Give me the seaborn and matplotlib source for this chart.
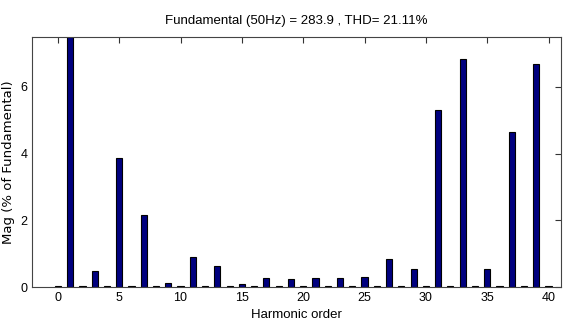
import numpy as np
import pandas as pd
import matplotlib
matplotlib.use("Agg")
import matplotlib.pyplot as plt
import seaborn as sns

# harmonic spectrum (% of fundamental)
orders = list(range(0, 41))
mags = [0.02, 100.0, 0.03, 0.47, 0.03, 3.88, 0.03, 2.15, 0.03, 0.12,
        0.03, 0.90, 0.03, 0.63, 0.03, 0.08, 0.03, 0.28, 0.03, 0.24,
        0.03, 0.28, 0.02, 0.28, 0.02, 0.31, 0.02, 0.85, 0.03, 0.55,
        0.03, 5.30, 0.03, 6.84, 0.03, 0.55, 0.03, 4.64, 0.03, 6.69,
        0.04]
title = "Fundamental (50Hz) = 283.9 , THD= 21.11%"

df = pd.DataFrame({"order": orders, "mag": mags})

sns.set_style("white")
plt.rcParams["font.family"] = ["Liberation Sans Narrow", "Liberation Sans", "DejaVu Sans"]
plt.rcParams["text.color"] = "black"
plt.rcParams["axes.labelcolor"] = "black"
plt.rcParams["xtick.color"] = "black"
plt.rcParams["ytick.color"] = "black"

fig = plt.figure(figsize=(5.74, 3.33), dpi=100)
ax = fig.add_axes([0.056, 0.138, 0.921, 0.751])

sns.barplot(data=df, x="order", y="mag", native_scale=True, width=0.5,
            color="#00007f", saturation=1, edgecolor="black", linewidth=0.8, ax=ax)

ax.set_xlim(-2.1, 41)
ax.set_ylim(0, 7.5)
ax.set_xticks(range(0, 41, 5))
ax.set_yticks([0, 2, 4, 6])
ax.tick_params(direction="in", top=True, right=True, length=4, labelsize=9,
               color="#333333", width=0.8)
for s in ax.spines.values():
    s.set_color("#444444")
    s.set_linewidth(0.8)

ax.set_xlabel("Harmonic order", fontsize=9.5)
ax.set_ylabel("Mag (% of Fundamental)", fontsize=9.5, family=["DejaVu Sans"])
ax.set_title(title, fontsize=9.5, pad=9)

fig.savefig("out.png", dpi=100, facecolor="white")
